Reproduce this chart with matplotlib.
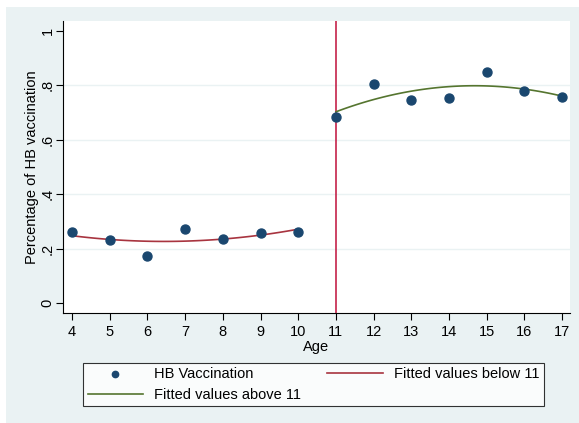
import numpy as np
import matplotlib.pyplot as plt
from matplotlib.patches import Rectangle

plt.rcParams['font.family'] = ['Liberation Sans', 'DejaVu Sans']

age = [4, 5, 6, 7, 8, 9, 10, 11, 12, 13, 14, 15, 16, 17]
hb_rate = [0.261, 0.232, 0.173, 0.272, 0.235, 0.257, 0.261,
           0.683, 0.806, 0.745, 0.754, 0.848, 0.778, 0.757]
cutoff = 11
yticks = [0, 0.2, 0.4, 0.6, 0.8, 1.0]
ytick_labels = ['0', '.2', '.4', '.6', '.8', '1']

bg = '#eaf2f3'
navy = '#1a476f'
maroon = '#a8343f'
green = '#55752f'
vline_col = '#c0103a'

age = np.array(age)
hb_rate = np.array(hb_rate)
below = age < cutoff
above = age >= cutoff

fig = plt.figure(figsize=(5.79, 4.23), dpi=100, facecolor='white')
fig.patches.append(Rectangle((6 / 579, 0), 1, 1 - 7 / 423, transform=fig.transFigure,
                             facecolor=bg, edgecolor='none', zorder=-5))
ax = fig.add_axes([63 / 579, 1 - 313 / 423, (570 - 63) / 579, (313 - 21) / 423])
ax.set_facecolor('white')

for y in [0.2, 0.4, 0.6, 0.8]:
    ax.axhline(y, color=bg, lw=1, zorder=0)

ax.scatter(age, hb_rate, s=42, color=navy, zorder=3, label='HB Vaccination')

xs = np.linspace(age[below].min(), age[below].max(), 100)
c = np.polyfit(age[below], hb_rate[below], 2)
l_below, = ax.plot(xs, np.polyval(c, xs), color=maroon, lw=1.2, zorder=2)

xs = np.linspace(age[above].min(), age[above].max(), 100)
c = np.polyfit(age[above], hb_rate[above], 2)
l_above, = ax.plot(xs, np.polyval(c, xs), color=green, lw=1.2, zorder=2)

ax.axvline(cutoff, color=vline_col, lw=1.1, zorder=1)

ax.set_xlim(3.76, 17.21)
ax.set_ylim(-0.037, 1.037)
ax.set_xticks(age)
ax.set_yticks(yticks)
ax.set_yticklabels(ytick_labels, rotation=90, va='center')
ax.tick_params(labelsize=10.5, length=5, color='black', width=0.8)
ax.tick_params(axis='y', pad=1)
for s in ['top', 'right']:
    ax.spines[s].set_visible(False)
ax.set_xlabel('Age', fontsize=10.5, labelpad=1)
ax.set_ylabel('Percentage of HB vaccination', fontsize=10.5, labelpad=1)

handles = [ax.collections[0], l_above, l_below]
labels = ['HB Vaccination', 'Fitted values above 11', 'Fitted values below 11']
leg = fig.legend(handles, labels, ncol=2, loc='center',
                 bbox_to_anchor=(313.5 / 579, 1 - 384.5 / 423), bbox_transform=fig.transFigure,
                 fontsize=10.5, frameon=True, fancybox=False, edgecolor='black',
                 columnspacing=1.8, handlelength=3.8, handletextpad=0.75,
                 borderpad=0.3, labelspacing=0.45, markerscale=0.7)
leg.get_frame().set_linewidth(0.8)

fig.savefig('out.png', dpi=100, facecolor=fig.get_facecolor())
